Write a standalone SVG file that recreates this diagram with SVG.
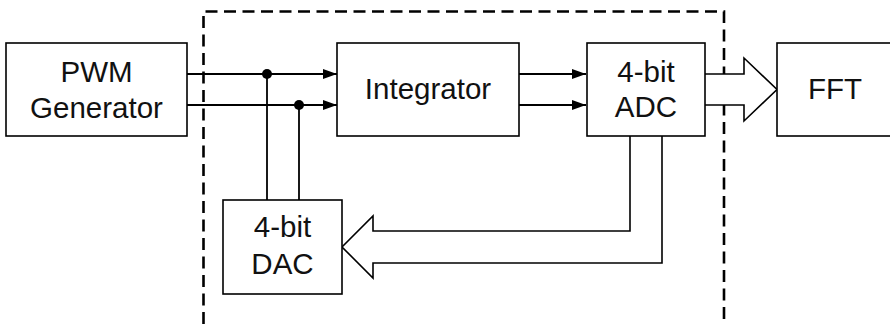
<svg xmlns="http://www.w3.org/2000/svg" width="890" height="324" viewBox="0 0 890 324">
  <defs>
    <style>
      .box { fill: #fff; stroke: #000; stroke-width: 1.6; }
      .lbl { font-family: "Liberation Sans", Arial, sans-serif; font-size: 29.5px; fill: #111; text-anchor: middle; }
      .wire { fill: none; stroke: #000; stroke-width: 1.8; }
      .bus { fill: #fff; stroke: #000; stroke-width: 1.6; stroke-linejoin: miter; }
      .frame { fill: none; stroke: #000; stroke-width: 2.6; stroke-dasharray: 12 6.5; }
    </style>
    <marker id="arr" viewBox="0 0 14 10" refX="14" refY="5" markerWidth="14" markerHeight="10" markerUnits="userSpaceOnUse" orient="auto">
      <path d="M0,0 L14,5 L0,10 Z" fill="#000"/>
    </marker>
  </defs>

  <rect width="890" height="324" fill="#fff"/>

  <!-- dashed boundary of the modulator loop -->
  <path class="frame" d="M203.5,324 V11.5 H724 V324"/>

  <!-- connectors -->
  <g id="connectors">
    <path class="wire" d="M187,74 H337" marker-end="url(#arr)"/>
    <path class="wire" d="M187,105 H337" marker-end="url(#arr)"/>
    <path class="wire" d="M519,74 H586" marker-end="url(#arr)"/>
    <path class="wire" d="M519,105 H586" marker-end="url(#arr)"/>
    <!-- feedback taps from DAC -->
    <path class="wire" d="M267,74 V200"/>
    <path class="wire" d="M299,105 V200"/>
    <circle cx="267" cy="74" r="5" fill="#000"/>
    <circle cx="299" cy="105" r="5" fill="#000"/>
    <!-- ADC output bus to FFT -->
    <path class="bus" d="M705,74 H744 V58 L777,89.5 L744,121 V105 H705"/>
    <!-- ADC feedback bus to DAC -->
    <path class="bus" d="M630,136 V231 H373 V216 L342,247 L373,278 V263 H662 V136"/>
  </g>

  <g id="pwm">
    <rect class="box" x="6" y="43" width="181" height="93"/>
    <text class="lbl" x="96.5" y="82">PWM</text>
    <text class="lbl" x="96.5" y="118">Generator</text>
  </g>

  <g id="integrator">
    <rect class="box" x="337" y="43" width="182" height="93"/>
    <text class="lbl" x="428" y="99">Integrator</text>
  </g>

  <g id="adc">
    <rect class="box" x="587" y="43" width="118" height="93"/>
    <text class="lbl" x="646" y="82">4-bit</text>
    <text class="lbl" x="646" y="117">ADC</text>
  </g>

  <g id="fft">
    <rect class="box" x="777" y="43" width="118" height="93"/>
    <text class="lbl" x="835" y="99">FFT</text>
  </g>

  <g id="dac">
    <rect class="box" x="223" y="200" width="119" height="94"/>
    <text class="lbl" x="282.5" y="237">4-bit</text>
    <text class="lbl" x="282.5" y="274">DAC</text>
  </g>
</svg>
